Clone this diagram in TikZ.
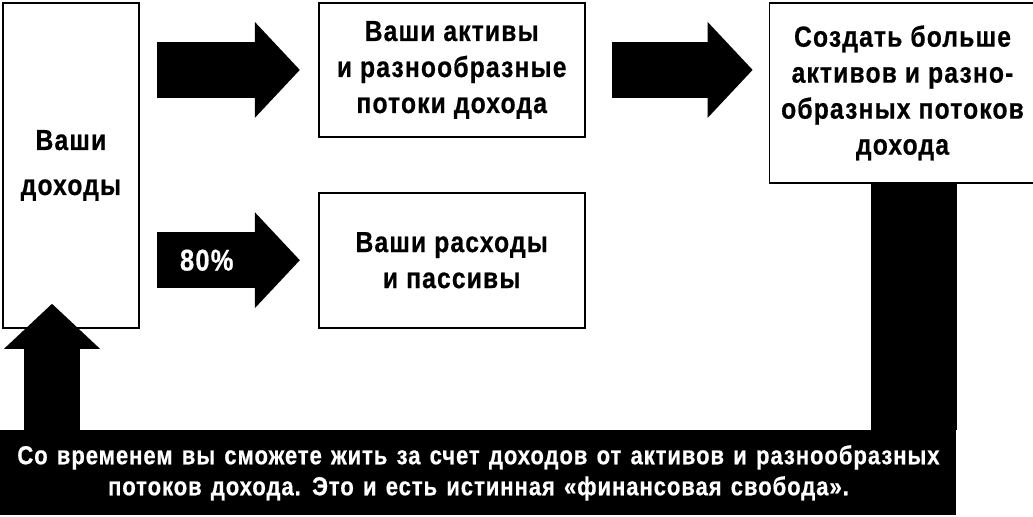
\documentclass[tikz,border=0pt]{standalone}
\usepackage{fontspec}
\setmainfont{Liberation Sans}
\newfontfamily\boxfont{Liberation Sans}[FakeStretch=0.85,LetterSpace=4,BoldFeatures={FakeBold=0.6}]
\newfontfamily\bannerfont{Liberation Sans}[FakeStretch=0.85,LetterSpace=3.5,WordSpace=1.3,BoldFeatures={FakeBold=0.6}]
\usetikzlibrary{arrows.meta,positioning}
\tikzset{
  basic/.style  = {draw, line width=0.9pt, align=center, inner sep=0pt,
                   font=\boxfont\bfseries\fontsize{14.5}{18}\selectfont},
  money/.style  = {basic, minimum width=133pt},
  fat/.style    = {line width=28pt, -{Triangle[length=22.5pt,width=48pt,line width=0pt]}},
  bar/.style    = {line width=43pt},
  banner/.style = {fill=black, text=white, align=center, inner sep=0pt,
                   font=\bannerfont\bfseries\fontsize{13}{15.5}\selectfont}
}

\begin{document}
\begin{tikzpicture}
\useasboundingbox (0,0) rectangle (516.5pt,-258pt);
\node[basic, anchor=north west, minimum width=68pt, minimum height=162.5pt] (income) at (1pt,-1pt) {Ваши\\[4.5pt]доходы};
\node[money, minimum height=67pt, right=89pt of income.north east, anchor=north west] (assets) {Ваши активы\\и разнообразные\\потоки дохода};
\node[money, minimum height=67.5pt, below=27pt of assets] (expenses) {Ваши расходы\\и пассивы};
\node[money, minimum height=90pt, right=91.5pt of assets.north east, anchor=north west] (more) {Создать больше\\активов и разно-\\образных потоков\\дохода};
\node[banner, anchor=north west, minimum width=478pt, minimum height=42.5pt] (banner) at (0,-215pt)
  {Со временем вы сможете жить за счет доходов от активов и разнообразных\\потоков дохода. Это и есть истинная «финансовая свобода».};

\draw[fat, shorten <=8.5pt, shorten >=9pt] (income.east |- assets.west) -- (assets.west);
\draw[fat, shorten <=8.5pt, shorten >=9pt] (income.east |- expenses.west) -- (expenses.west)
  node[pos=0.376, text=white, font=\boxfont\bfseries\fontsize{15}{18}\selectfont] (pct) {80\%};
\draw[fat, shorten <=13pt, shorten >=8pt] (assets.east) -- (assets.east -| more.west);
\draw[bar] ([xshift=-21.5pt]banner.north east) -- ([xshift=-21.5pt]banner.north east |- more.south);
\draw[fat, shorten >=-12.5pt] ([xshift=26pt]banner.north west) -- ([xshift=26pt]banner.north west |- income.south);
\end{tikzpicture}
\end{document}
